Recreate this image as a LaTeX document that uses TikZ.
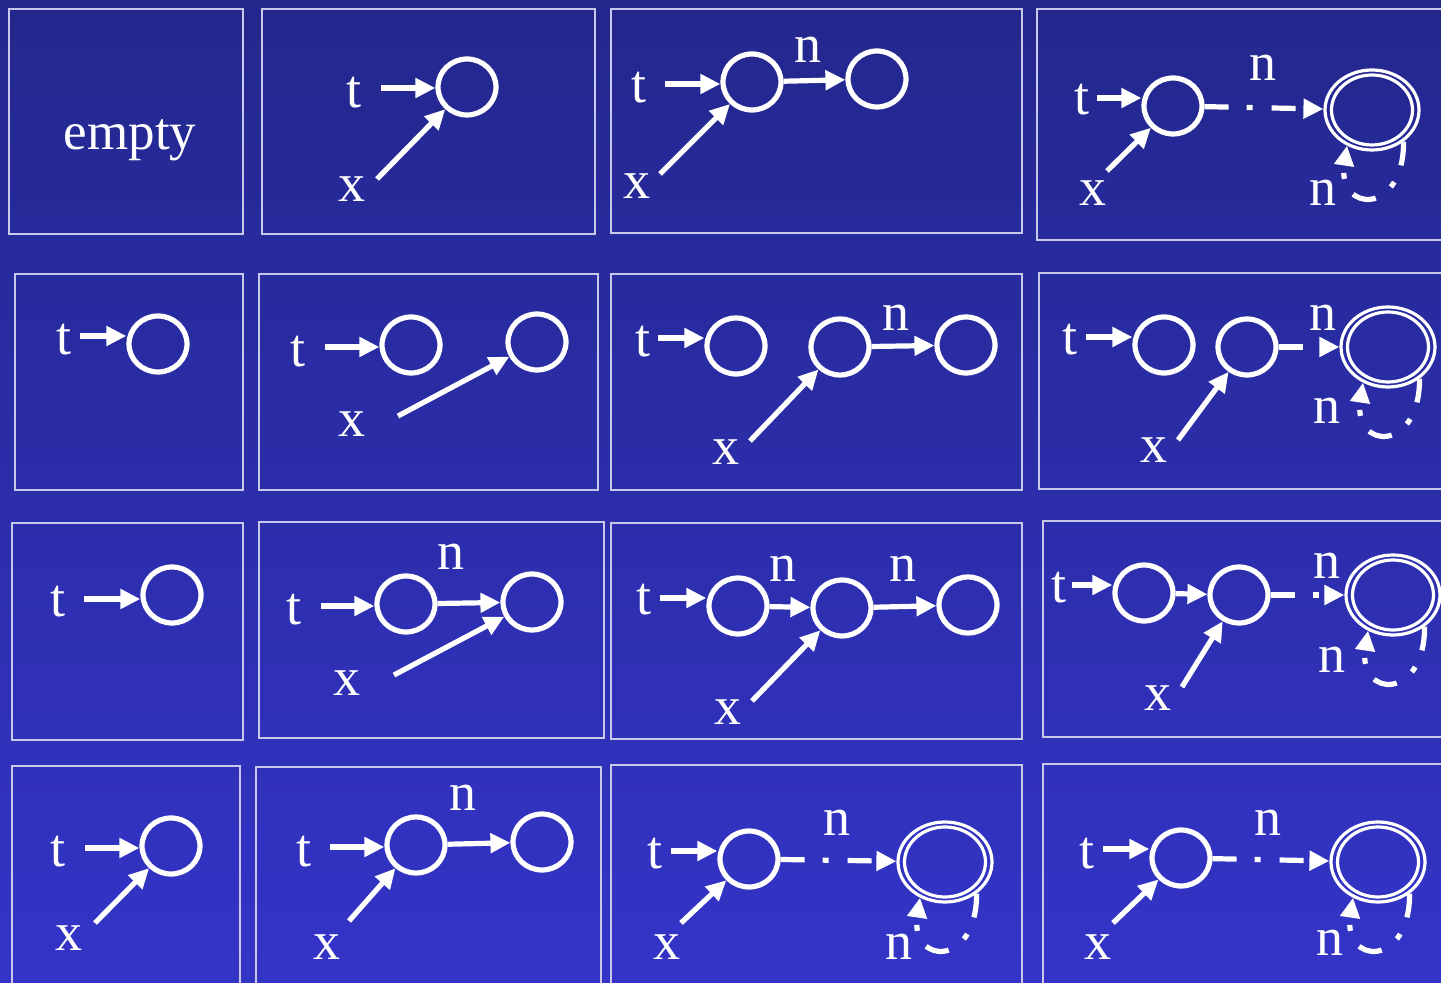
\documentclass[tikz,border=0pt]{standalone}
\usepackage{fontspec}
\setmainfont{Liberation Serif}
\usetikzlibrary{shapes.geometric,arrows.meta}
\definecolor{bgtop}{RGB}{35,39,140}
\definecolor{bgbot}{RGB}{52,52,200}
\definecolor{panelc}{RGB}{200,200,235}
\tikzset{
 panel/.style={draw=panelc,line width=0.8pt},
 st/.style={ellipse,draw=white,line width=2.6pt,minimum width=29pt,minimum height=28pt,inner sep=0pt},
 dst/.style={ellipse,draw=white,line width=1.6pt,minimum width=47pt,minimum height=40pt,inner sep=0pt},
 lab/.style={text=white,inner sep=0pt,font=\fontsize{27pt}{27pt}\selectfont},
 arr/.style={draw=white,line width=2.6pt,-{Triangle[length=10pt,width=9.5pt]}},
 darr/.style={arr,dash pattern=on 12pt off 9pt on 3pt off 9.5pt},
 inring/.style={draw=white,line width=1.6pt},
}
\newcommand\selfloop[1]{\draw[darr] (#1.-45) .. controls +(0,75) and +(-10,67) .. (#1.-125);
 \draw[inring] (#1.center) ellipse [x radius=20.25pt, y radius=17.5pt];}
\begin{document}
\begin{tikzpicture}[x=0.5pt,y=-0.5pt]
\useasboundingbox (0,0) rectangle (1441,983);
\clip (0,0) rectangle (1441,983);
\shade[top color=bgtop,bottom color=bgbot] (0,0) rectangle (1441,983);

% ---------- Row 1 ----------
\draw[panel] (9,9) rectangle (243,234);
\node[lab,font=\fontsize{26.5pt}{26.5pt}\selectfont] (p1e) at (130,140) {empty};

\draw[panel] (262,9) rectangle (595,234);
\node[st] (p2a) at (467,87) {};
\node[lab] (p2t) at (354,93) {t};
\node[lab] (p2x) at (352,189) {x};
\coordinate (p2ts) at (381,88);
\coordinate (p2xs) at (377,179);
\draw[arr] (p2ts) -- (p2ts -| p2a.west);
\draw[arr] (p2xs) -- (p2a);

\draw[panel] (611,9) rectangle (1022,233);
\node[st] (p3a) at (752,82) {};
\node[st] (p3b) at (877,79) {};
\node[lab] (p3t) at (639,88) {t};
\node[lab] (p3x) at (637,186) {x};
\node[lab] (p3n) at (808,50) {n};
\coordinate (p3ts) at (665,84);
\coordinate (p3xs) at (660,174);
\draw[arr] (p3ts) -- (p3ts -| p3a.west);
\draw[arr] (p3xs) -- (p3a);
\draw[arr] (p3a) -- (p3b);

\draw[panel] (1037,9) rectangle (1460,240);
\node[st] (p4a) at (1173,106) {};
\node[dst] (p4d) at (1372,110) {};
\node[lab] (p4t) at (1082,100) {t};
\node[lab] (p4x) at (1093,193) {x};
\node[lab] (p4n) at (1263,68) {n};
\node[lab] (p4m) at (1323,193) {n};
\coordinate (p4ts) at (1097,98);
\coordinate (p4xs) at (1107,171);
\draw[arr] (p4ts) -- (p4ts -| p4a.west);
\draw[arr] (p4xs) -- (p4a);
\draw[darr] (p4a) -- (p4d);
\selfloop{p4d}

% ---------- Row 2 ----------
\draw[panel] (15,274) rectangle (243,490);
\node[st] (p5a) at (158,344) {};
\node[lab] (p5t) at (64,340) {t};
\coordinate (p5ts) at (80,336);
\draw[arr] (p5ts) -- (p5ts -| p5a.west);

\draw[panel] (259,274) rectangle (598,490);
\node[st] (p6a) at (411,345) {};
\node[st] (p6b) at (537,342) {};
\node[lab] (p6t) at (298,352) {t};
\node[lab] (p6x) at (352,424) {x};
\coordinate (p6ts) at (325,347);
\coordinate (p6xs) at (398,416);
\draw[arr] (p6ts) -- (p6ts -| p6a.west);
\draw[arr] (p6xs) -- (p6b);

\draw[panel] (611,274) rectangle (1022,490);
\node[st] (p7a) at (736,346) {};
\node[st] (p7b) at (840,347) {};
\node[st] (p7c) at (966,345) {};
\node[lab] (p7t) at (643,342) {t};
\node[lab] (p7x) at (726,452) {x};
\node[lab] (p7n) at (896,318) {n};
\coordinate (p7ts) at (658,338);
\coordinate (p7xs) at (750,441);
\draw[arr] (p7ts) -- (p7ts -| p7a.west);
\draw[arr] (p7xs) -- (p7b);
\draw[arr] (p7b) -- (p7c);

\draw[panel] (1039,273) rectangle (1460,489);
\node[st] (p8a) at (1164,345) {};
\node[st] (p8b) at (1247,347) {};
\node[dst] (p8d) at (1388,347) {};
\node[lab] (p8t) at (1070,340) {t};
\node[lab] (p8x) at (1154,450) {x};
\node[lab] (p8n) at (1323,318) {n};
\node[lab] (p8m) at (1327,411) {n};
\coordinate (p8ts) at (1086,337);
\coordinate (p8xs) at (1178,440);
\draw[arr] (p8ts) -- (p8ts -| p8a.west);
\draw[arr] (p8xs) -- (p8b);
\draw[darr] (p8b) -- (p8d);
\selfloop{p8d}

% ---------- Row 3 ----------
\draw[panel] (12,523) rectangle (243,740);
\node[st] (p9a) at (172,595) {};
\node[lab] (p9t) at (58,602) {t};
\coordinate (p9ts) at (84,599);
\draw[arr] (p9ts) -- (p9ts -| p9a.west);

\draw[panel] (259,522) rectangle (604,738);
\node[st] (p10a) at (406,604) {};
\node[st] (p10b) at (532,602) {};
\node[lab] (p10t) at (294,610) {t};
\node[lab] (p10x) at (347,683) {x};
\node[lab] (p10n) at (451,557) {n};
\coordinate (p10ts) at (321,606);
\coordinate (p10xs) at (394,675);
\draw[arr] (p10ts) -- (p10ts -| p10a.west);
\draw[arr] (p10xs) -- (p10b);
\draw[arr] (p10a) -- (p10b);

\draw[panel] (611,523) rectangle (1022,739);
\node[st] (p11a) at (738,606) {};
\node[st] (p11b) at (842,608) {};
\node[st] (p11c) at (968,605) {};
\node[lab] (p11t) at (644,600) {t};
\node[lab] (p11x) at (728,712) {x};
\node[lab] (p11n) at (783,569) {n};
\node[lab] (p11m) at (903,569) {n};
\coordinate (p11ts) at (660,598);
\coordinate (p11xs) at (752,701);
\draw[arr] (p11ts) -- (p11ts -| p11a.west);
\draw[arr] (p11xs) -- (p11b);
\draw[arr] (p11a) -- (p11b);
\draw[arr] (p11b) -- (p11c);

\draw[panel] (1043,521) rectangle (1460,737);
\node[st] (p12a) at (1144,593) {};
\node[st] (p12b) at (1239,595) {};
\node[dst] (p12d) at (1393,595) {};
\node[lab] (p12t) at (1059,588) {t};
\node[lab] (p12x) at (1158,698) {x};
\node[lab] (p12n) at (1327,566) {n};
\node[lab] (p12m) at (1332,660) {n};
\coordinate (p12ts) at (1072,585);
\coordinate (p12xs) at (1182,687);
\draw[arr] (p12ts) -- (p12ts -| p12a.west);
\draw[arr] (p12xs) -- (p12b);
\draw[arr] (p12a) -- (p12b);
\draw[darr] (p12b) -- (p12d);
\selfloop{p12d}

% ---------- Row 4 ----------
\draw[panel] (12,766) rectangle (240,1000);
\node[st] (p13a) at (171,846) {};
\node[lab] (p13t) at (58,852) {t};
\node[lab] (p13x) at (69,938) {x};
\coordinate (p13ts) at (85,848);
\coordinate (p13xs) at (95,923);
\draw[arr] (p13ts) -- (p13ts -| p13a.west);
\draw[arr] (p13xs) -- (p13a);

\draw[panel] (256,767) rectangle (601,1000);
\node[st] (p14a) at (416,845) {};
\node[st] (p14b) at (542,842) {};
\node[lab] (p14t) at (304,852) {t};
\node[lab] (p14x) at (327,947) {x};
\node[lab] (p14n) at (463,798) {n};
\coordinate (p14ts) at (330,847);
\coordinate (p14xs) at (349,921);
\draw[arr] (p14ts) -- (p14ts -| p14a.west);
\draw[arr] (p14xs) -- (p14a);
\draw[arr] (p14a) -- (p14b);

\draw[panel] (611,765) rectangle (1022,1000);
\node[st] (p15a) at (749,859) {};
\node[dst] (p15d) at (945,862) {};
\node[lab] (p15t) at (655,854) {t};
\node[lab] (p15x) at (667,947) {x};
\node[lab] (p15n) at (837,823) {n};
\node[lab] (p15m) at (899,947) {n};
\coordinate (p15ts) at (671,851);
\coordinate (p15xs) at (681,923);
\draw[arr] (p15ts) -- (p15ts -| p15a.west);
\draw[arr] (p15xs) -- (p15a);
\draw[darr] (p15a) -- (p15d);
\selfloop{p15d}

\draw[panel] (1043,764) rectangle (1460,1000);
\node[st] (p16a) at (1181,858) {};
\node[dst] (p16d) at (1378,862) {};
\node[lab] (p16t) at (1087,854) {t};
\node[lab] (p16x) at (1098,947) {x};
\node[lab] (p16n) at (1268,823) {n};
\node[lab] (p16m) at (1330,943) {n};
\coordinate (p16ts) at (1103,849);
\coordinate (p16xs) at (1113,923);
\draw[arr] (p16ts) -- (p16ts -| p16a.west);
\draw[arr] (p16xs) -- (p16a);
\draw[darr] (p16a) -- (p16d);
\selfloop{p16d}
\end{tikzpicture}
\end{document}
